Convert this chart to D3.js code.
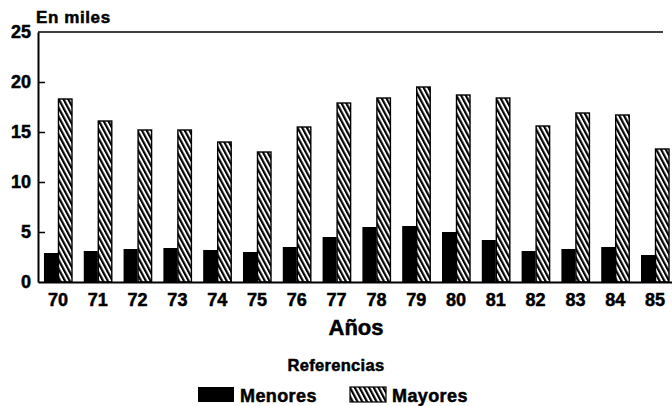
<!DOCTYPE html>
<html>
<head>
<meta charset="utf-8">
<script src="https://cdn.jsdelivr.net/npm/d3@7"></script>
<style>
  html, body { margin: 0; padding: 0; background: #fff; }
  svg { display: block; }
  text { font-family: "Liberation Sans", Arial, Helvetica, sans-serif; font-weight: 700; fill: #000; stroke: #000; stroke-width: 0.5px; }
</style>
</head>
<body>
<svg id="chart" width="672" height="406"></svg>
<script>
const years = ["70","71","72","73","74","75","76","77","78","79","80","81","82","83","84","85"];
const menores = [2.9, 3.1, 3.3, 3.4, 3.2, 3.0, 3.5, 4.5, 5.5, 5.6, 5.0, 4.2, 3.1, 3.3, 3.5, 2.7];
const mayores = [18.3, 16.1, 15.2, 15.2, 14.0, 13.0, 15.5, 17.9, 18.4, 19.5, 18.7, 18.4, 15.6, 16.9, 16.7, 13.3];
const seriesNames = ["Menores", "Mayores"];
const yTicks = [0, 5, 10, 15, 20, 25];

const svg = d3.select("#chart");

// pattern
const defs = svg.append("defs");
const pat = defs.append("pattern")
  .attr("id", "hatch")
  .attr("patternUnits", "userSpaceOnUse")
  .attr("width", 4.2).attr("height", 10)
  .attr("patternTransform", "rotate(-28)");
pat.append("rect").attr("width", 4.2).attr("height", 10).attr("fill", "#fff");
pat.append("line").attr("x1", 1.1).attr("x2", 1.1).attr("y1", 0).attr("y2", 10)
  .attr("stroke", "#000").attr("stroke-width", 2.2);

const x = d3.scaleBand().domain(years).range([38, 675]).paddingInner(0.296).paddingOuter(0.15);
const xs = d3.scaleBand().domain(seriesNames).range([0, x.bandwidth()]);
const y = d3.scaleLinear().domain([0, 25]).range([282, 32]);

// top frame line
svg.append("line").attr("x1", 38).attr("x2", 663).attr("y1", y(25)).attr("y2", y(25))
  .attr("stroke", "#000").attr("stroke-width", 1.6);

// bars
const g = svg.append("g");
g.selectAll("rect.men").data(years).join("rect")
  .attr("class", "men")
  .attr("x", (d) => x(d) + xs("Menores"))
  .attr("width", xs.bandwidth())
  .attr("y", (d, i) => y(menores[i]))
  .attr("height", (d, i) => y(0) - y(menores[i]))
  .attr("fill", "#000");
g.selectAll("rect.may").data(years).join("rect")
  .attr("class", "may")
  .attr("x", (d) => x(d) + xs("Mayores") + 0.5)
  .attr("width", xs.bandwidth() - 0.5)
  .attr("y", (d, i) => y(mayores[i]))
  .attr("height", (d, i) => y(0) - y(mayores[i]))
  .attr("fill", "url(#hatch)")
  .attr("stroke", "#000").attr("stroke-width", 1.4);

// y axis
const yAxis = d3.axisLeft(y).tickValues(yTicks).tickFormat(d3.format("d"))
  .tickSizeInner(-7).tickSizeOuter(0).tickPadding(7);
const ya = svg.append("g").attr("transform", "translate(38,0)").call(yAxis);
ya.select(".domain").attr("stroke-width", 2);
ya.selectAll(".tick line").attr("stroke-width", 1.5);
ya.selectAll(".tick text").attr("font-size", 18).attr("font-family", "Liberation Sans, Arial, sans-serif").attr("font-weight", 700);
ya.selectAll(".tick").filter(d => d === 0 || d === 25).select("line").remove();

// x axis
const xAxis = d3.axisBottom(x).tickSize(0).tickPadding(11);
const xa = svg.append("g").attr("transform", `translate(0,${y(0)})`).call(xAxis);
xa.select(".domain").attr("stroke-width", 2);
xa.selectAll(".tick text").attr("font-size", 18).attr("font-family", "Liberation Sans, Arial, sans-serif").attr("font-weight", 700);

// titles
svg.append("text").attr("x", 36).attr("y", 23).attr("font-size", 17).attr("letter-spacing", 0.6).text("En miles");
svg.append("text").attr("x", 356).attr("y", 335).attr("text-anchor", "middle").attr("font-size", 22).text("Años");
svg.append("text").attr("x", 336).attr("y", 371).attr("text-anchor", "middle").attr("font-size", 16.5).attr("letter-spacing", 0.3).text("Referencias");

// legend
const legendX = [198, 350];
const legend = svg.append("g");
seriesNames.forEach((s, i) => {
  legend.append("rect").attr("x", legendX[i]).attr("y", 387).attr("width", 36).attr("height", 15)
    .attr("fill", i === 0 ? "#000" : "url(#hatch)")
    .attr("stroke", "#000").attr("stroke-width", i === 0 ? 0 : 1.2);
  legend.append("text").attr("x", legendX[i] + 42).attr("y", 402).attr("font-size", 18).attr("letter-spacing", 0.4).text(s);
});
</script>
</body>
</html>
